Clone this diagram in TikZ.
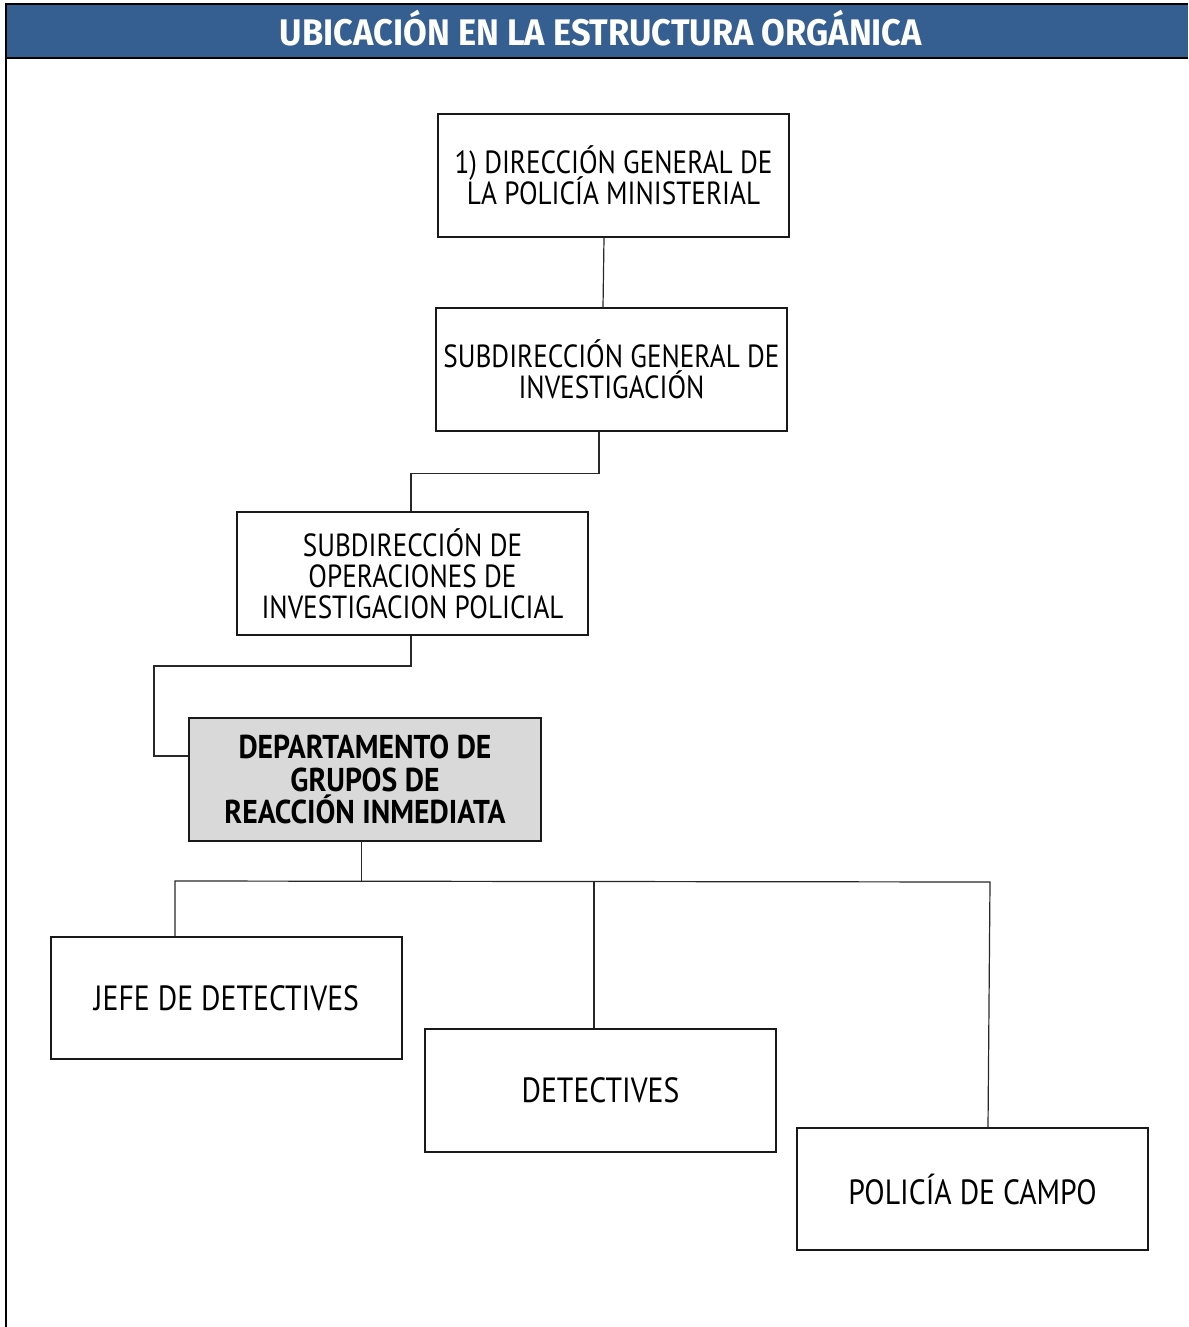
\documentclass[tikz,border=0pt]{standalone}
\usepackage{fontspec}
\newfontfamily\bodyfont[FakeStretch=0.85]{PT Sans}
\newfontfamily\deptfont[FakeStretch=0.90]{PT Sans}
\newfontfamily\titlefont[FakeStretch=0.93]{Fira Sans}
\newcommand\tightlines{\lineskiplimit=-100pt\relax}
\definecolor{hdrblue}{RGB}{54,95,145}
\definecolor{dptgray}{RGB}{217,217,217}
\definecolor{linkgray}{RGB}{40,40,40}
\tikzset{
  unit/.style={draw=black!90, line width=1.3pt, minimum width=351pt, minimum height=123pt,
    align=center, inner sep=0pt,
    font=\tightlines\bodyfont\fontsize{32}{31}\selectfont},
  single/.style={unit, font=\bodyfont\fontsize{35}{35}\selectfont},
  dept/.style={unit, fill=dptgray,
    font=\tightlines\deptfont\bfseries\fontsize{33}{32.5}\selectfont},
  link/.style={draw=linkgray, line width=1.2pt}
}
\begin{document}
\begin{tikzpicture}[x=1pt,y=-1pt]
\useasboundingbox (0,0) rectangle (1188,1327);
% header band and frame
\fill[hdrblue] (6,5) rectangle (1188,58);
\draw[line width=2.5pt] (6,4) -- (1188,4);
\draw[line width=2pt] (6,58) -- (1188,58);
\draw[line width=2pt] (6,3) -- (6,1327);
\node[text=white, font=\titlefont\bfseries\fontsize{37}{37}\selectfont] (title) at (601,28) {UBICACIÓN EN LA ESTRUCTURA ORGÁNICA};
% units
\node[unit] (dg) at (613.5,175.5) {1) DIRECCIÓN GENERAL DE\\LA POLICÍA MINISTERIAL};
\node[unit] (sgi) at (611.5,369.5) {SUBDIRECCIÓN GENERAL DE\\INVESTIGACIÓN};
\node[unit] (sop) at (412.5,573.5) {SUBDIRECCIÓN DE\\OPERACIONES DE\\INVESTIGACION POLICIAL};
\node[dept, minimum width=352pt] (dgri) at (365,779.5) {DEPARTAMENTO DE\\GRUPOS DE\\REACCIÓN INMEDIATA};
\node[single, minimum height=122pt] (jefe) at (226.5,998) {JEFE DE DETECTIVES};
\node[single] (det) at (600.5,1090.5) {DETECTIVES};
\node[single, minimum height=122pt] (pc) at (972.5,1189) {POLICÍA DE CAMPO};
% connectors
\coordinate (elbow) at (154,666);
\coordinate (busL) at (175,881);
\coordinate (busR) at (990,882);
\draw[link] ([xshift=-9.5pt]dg.south) -- ([xshift=-8.5pt]sgi.north);
\draw[link] ([xshift=-12.5pt]sgi.south) |- ([xshift=-1.5pt,yshift=38pt]sop.north) -- ([xshift=-1.5pt]sop.north);
\draw[link] ([xshift=-1.5pt]sop.south) |- (elbow) |- ([yshift=23.5pt]dgri.west);
\draw[link] ([xshift=-3.5pt]dgri.south) -- ([xshift=-3.5pt]dgri.south |- busL);
\draw[link] ([xshift=-51.5pt]jefe.north) -- (busL) -- (busR) -- ([xshift=15.5pt]pc.north);
\draw[link] ([xshift=-6.5pt]det.north) -- ([xshift=-6.5pt]det.north |- busL);
\end{tikzpicture}
\end{document}
